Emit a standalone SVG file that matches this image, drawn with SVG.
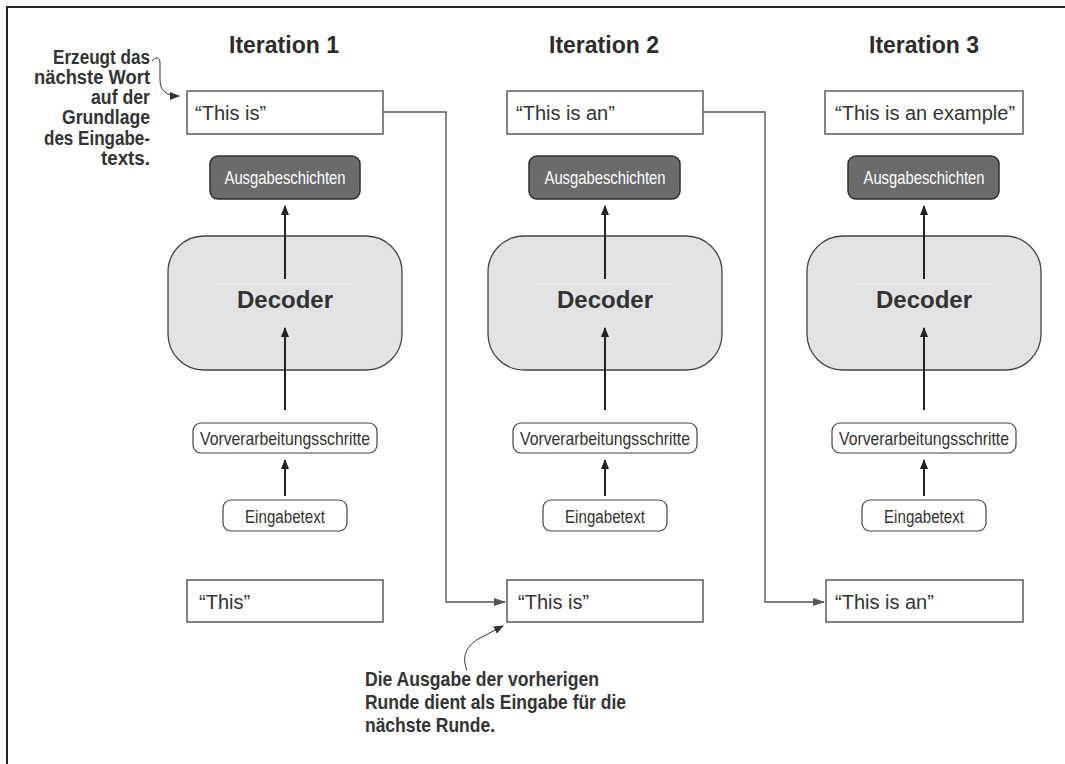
<svg xmlns="http://www.w3.org/2000/svg" width="1065" height="764" viewBox="0 0 1065 764">
<style>
.frame{fill:none;stroke:#222;stroke-width:2}
.title{font-family:"Liberation Sans",Arial,sans-serif;font-weight:bold;font-size:23px;fill:#2b2b2b;text-anchor:middle}
.qbox{fill:#fff;stroke:#444;stroke-width:1.3}
.qtxt{font-family:"Liberation Sans",Arial,sans-serif;font-size:20px;fill:#333}
.ausg{fill:#6b6b6d;stroke:#2e2e2e;stroke-width:1.5}
.ausgtxt{font-family:"Liberation Sans Narrow","Liberation Sans",sans-serif;font-size:19px;fill:#fff;text-anchor:middle}
.dec{fill:#e3e3e5;stroke:#444;stroke-width:1.3}
.dectxt{font-family:"Liberation Sans",Arial,sans-serif;font-weight:bold;font-size:24px;fill:#333;text-anchor:middle}
.pill{fill:#fff;stroke:#444;stroke-width:1.2}
.pilltxt{font-family:"Liberation Sans Narrow","Liberation Sans",sans-serif;font-size:19px;fill:#333;text-anchor:middle}
.varr{stroke:#222;stroke-width:2;fill:none}
.conn{stroke:#555;stroke-width:1.4;fill:none}
.curve{stroke:#333;stroke-width:1;fill:none}
.note{font-family:"Liberation Sans Narrow","Liberation Sans",sans-serif;font-weight:bold;font-size:20px;fill:#333}
.noteb{font-family:"Liberation Sans Narrow","Liberation Sans",sans-serif;font-weight:bold;font-size:21px;fill:#333}
.faint{stroke:#f2f2f3;stroke-width:1}
</style>
<defs>
<marker id="ah" markerWidth="10" markerHeight="8" refX="9" refY="4" orient="auto" markerUnits="userSpaceOnUse">
<path d="M0,0 L10,4 L0,8 Z" fill="#222"/>
</marker>
<marker id="ahc" markerWidth="12" markerHeight="8" refX="11" refY="4" orient="auto" markerUnits="userSpaceOnUse">
<path d="M0,0 L12,4 L0,8 Z" fill="#555"/>
</marker>
<marker id="ahn" markerWidth="10" markerHeight="8" refX="9" refY="4" orient="auto" markerUnits="userSpaceOnUse">
<path d="M0,0 L10,4 L0,8 Z" fill="#333"/>
</marker>
</defs>
<rect width="1065" height="764" fill="#fff"/>
<path class="frame" d="M7,764 V7 H1065"/>

<g id="title1"><text class="title" x="284" y="53">Iteration 1</text></g>
<g id="title2"><text class="title" x="604" y="53">Iteration 2</text></g>
<g id="title3"><text class="title" x="924" y="53">Iteration 3</text></g>

<!-- Column 1 -->
<g id="out1"><rect class="qbox" x="187" y="91" width="196" height="43"/><text class="qtxt" x="195" y="120">“This is”</text></g>
<g id="ausg1"><rect class="ausg" x="210" y="156" width="150" height="43" rx="8"/><text class="ausgtxt" x="285" y="183.5" textLength="121" lengthAdjust="spacingAndGlyphs">Ausgabeschichten</text></g>
<g id="dec1"><rect class="dec" x="168" y="236" width="234" height="134" rx="36"/><line class="faint" x1="218" y1="284" x2="353" y2="284"/><text class="dectxt" x="285" y="308">Decoder</text></g>
<g id="pre1"><rect class="pill" x="193" y="423" width="184" height="30" rx="8"/><text class="pilltxt" x="285" y="445" textLength="170" lengthAdjust="spacingAndGlyphs">Vorverarbeitungsschritte</text></g>
<g id="in1"><rect class="pill" x="223" y="500" width="124" height="31" rx="8"/><text class="pilltxt" x="285" y="523" textLength="80" lengthAdjust="spacingAndGlyphs">Eingabetext</text></g>
<g id="inq1"><rect class="qbox" x="187" y="580" width="196" height="42"/><text class="qtxt" x="199" y="609">“This”</text></g>

<!-- Column 2 -->
<g id="out2"><rect class="qbox" x="507" y="91" width="196" height="43"/><text class="qtxt" x="516" y="120">“This is an”</text></g>
<g id="ausg2"><rect class="ausg" x="529" y="156" width="151" height="43" rx="8"/><text class="ausgtxt" x="605" y="183.5" textLength="121" lengthAdjust="spacingAndGlyphs">Ausgabeschichten</text></g>
<g id="dec2"><rect class="dec" x="488" y="236" width="234" height="134" rx="36"/><line class="faint" x1="538" y1="284" x2="673" y2="284"/><text class="dectxt" x="605" y="308">Decoder</text></g>
<g id="pre2"><rect class="pill" x="513" y="423" width="184" height="30" rx="8"/><text class="pilltxt" x="605" y="445" textLength="170" lengthAdjust="spacingAndGlyphs">Vorverarbeitungsschritte</text></g>
<g id="in2"><rect class="pill" x="543" y="500" width="124" height="31" rx="8"/><text class="pilltxt" x="605" y="523" textLength="80" lengthAdjust="spacingAndGlyphs">Eingabetext</text></g>
<g id="inq2"><rect class="qbox" x="507" y="580" width="196" height="42"/><text class="qtxt" x="518" y="609">“This is”</text></g>

<!-- Column 3 -->
<g id="out3"><rect class="qbox" x="825" y="91" width="198" height="43"/><text class="qtxt" x="835" y="120">“This is an example”</text></g>
<g id="ausg3"><rect class="ausg" x="848" y="156" width="151" height="43" rx="8"/><text class="ausgtxt" x="924" y="183.5" textLength="121" lengthAdjust="spacingAndGlyphs">Ausgabeschichten</text></g>
<g id="dec3"><rect class="dec" x="807" y="236" width="234" height="134" rx="36"/><line class="faint" x1="857" y1="284" x2="992" y2="284"/><text class="dectxt" x="924" y="308">Decoder</text></g>
<g id="pre3"><rect class="pill" x="832" y="423" width="184" height="30" rx="8"/><text class="pilltxt" x="924" y="445" textLength="170" lengthAdjust="spacingAndGlyphs">Vorverarbeitungsschritte</text></g>
<g id="in3"><rect class="pill" x="862" y="500" width="124" height="31" rx="8"/><text class="pilltxt" x="924" y="523" textLength="80" lengthAdjust="spacingAndGlyphs">Eingabetext</text></g>
<g id="inq3"><rect class="qbox" x="826" y="580" width="197" height="42"/><text class="qtxt" x="835" y="609">“This is an”</text></g>

<g id="connectors">
<line class="varr" x1="285" y1="496" x2="285" y2="460" marker-end="url(#ah)"/>
<line class="varr" x1="285" y1="410" x2="285" y2="328" marker-end="url(#ah)"/>
<line class="varr" x1="285" y1="279" x2="285" y2="206" marker-end="url(#ah)"/>
<line class="varr" x1="605" y1="496" x2="605" y2="460" marker-end="url(#ah)"/>
<line class="varr" x1="605" y1="410" x2="605" y2="328" marker-end="url(#ah)"/>
<line class="varr" x1="605" y1="279" x2="605" y2="206" marker-end="url(#ah)"/>
<line class="varr" x1="924" y1="496" x2="924" y2="460" marker-end="url(#ah)"/>
<line class="varr" x1="924" y1="410" x2="924" y2="328" marker-end="url(#ah)"/>
<line class="varr" x1="924" y1="279" x2="924" y2="206" marker-end="url(#ah)"/>
<path class="conn" d="M383,112 H446 V602 H505" marker-end="url(#ahc)"/>
<path class="conn" d="M703,112 H765 V602 H824" marker-end="url(#ahc)"/>
<path class="curve" d="M152,61 C155,57 160,56 160,63 L160,80 C160,90 166,96 179,96" marker-end="url(#ahn)"/>
<path class="curve" d="M467,670 C461,656 467,645 480,638 L503,626" marker-end="url(#ahn)"/>
</g>

<g id="note-top">
<text class="note" text-anchor="end" x="150" y="63.5" textLength="97" lengthAdjust="spacingAndGlyphs">Erzeugt das</text>
<text class="note" text-anchor="end" x="150" y="83.8" textLength="116" lengthAdjust="spacingAndGlyphs">nächste Wort</text>
<text class="note" text-anchor="end" x="150" y="104.1" textLength="59" lengthAdjust="spacingAndGlyphs">auf der</text>
<text class="note" text-anchor="end" x="150" y="124.4" textLength="88" lengthAdjust="spacingAndGlyphs">Grundlage</text>
<text class="note" text-anchor="end" x="150" y="144.7" textLength="106" lengthAdjust="spacingAndGlyphs">des Eingabe-</text>
<text class="note" text-anchor="end" x="150" y="165" textLength="49" lengthAdjust="spacingAndGlyphs">texts.</text>
</g>
<g id="note-bottom">
<text class="noteb" x="365" y="686" textLength="234" lengthAdjust="spacingAndGlyphs">Die Ausgabe der vorherigen</text>
<text class="noteb" x="365" y="709" textLength="261" lengthAdjust="spacingAndGlyphs">Runde dient als Eingabe für die</text>
<text class="noteb" x="365" y="732" textLength="130" lengthAdjust="spacingAndGlyphs">nächste Runde.</text>
</g>
</svg>
